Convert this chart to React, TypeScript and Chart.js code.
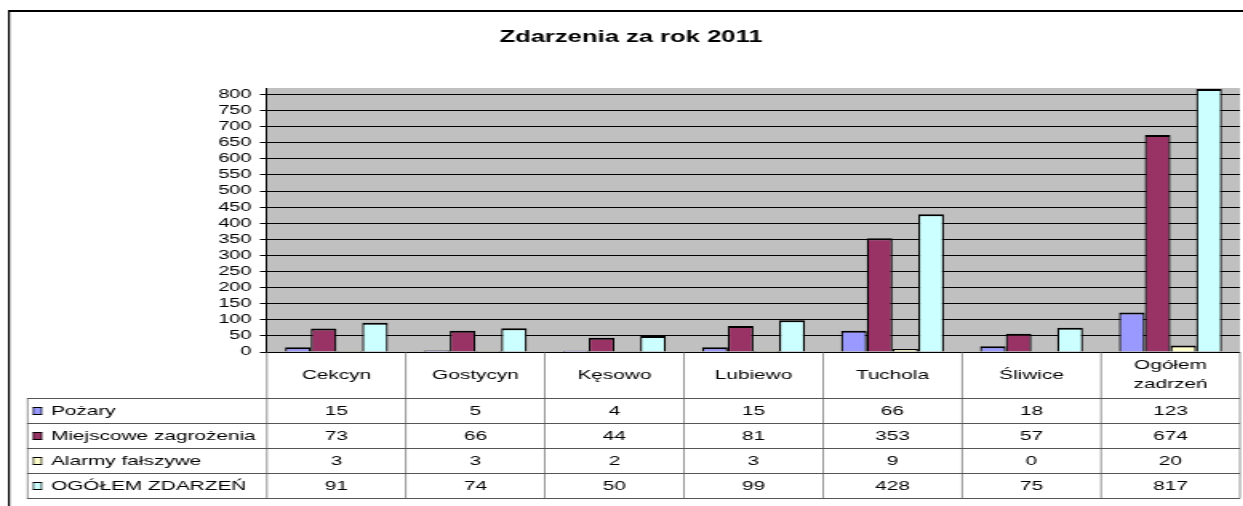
import React, { useEffect, useRef } from 'react';
import { Chart, registerables } from 'chart.js';
Chart.register(...registerables);

// horizontal stretch of the whole picture (the reference text is stretched)
const S = 1.6;
const CANVAS_W = 777;
const CANVAS_H = 506;

const title = 'Zdarzenia za rok 2011';
const categories = ['Cekcyn', 'Gostycyn', 'Kęsowo', 'Lubiewo', 'Tuchola', 'Śliwice', 'Ogółem zadrzeń'];
const seriesNames = ['Pożary', 'Miejscowe zagrożenia', 'Alarmy fałszywe', 'OGÓŁEM ZDARZEŃ'];
const pozary = [15, 5, 4, 15, 66, 18, 123];
const miejscowe = [73, 66, 44, 81, 353, 57, 674];
const alarmy = [3, 3, 2, 3, 9, 0, 20];
const ogolem = [91, 74, 50, 99, 428, 75, 817];
const seriesColors = ['#9999FF', '#993366', '#FFFFCC', '#CCFFFF'];
const yTickValues = [0, 50, 100, 150, 200, 250, 300, 350, 400, 450, 500, 550, 600, 650, 700, 750, 800];
const yMax = 820;

const FONT = '"Liberation Sans", Arial, Helvetica, sans-serif';

function wrapWords(ctx: CanvasRenderingContext2D, text: string, maxW: number): string[] {
  if (ctx.measureText(text).width <= maxW) return [text];
  const words = text.split(' ');
  const lines: string[] = [];
  let cur = '';
  for (const w of words) {
    const t = cur ? cur + ' ' + w : w;
    if (cur && ctx.measureText(t).width > maxW) {
      lines.push(cur);
      cur = w;
    } else cur = t;
  }
  if (cur) lines.push(cur);
  return lines;
}

const decoPlugin = {
  id: 'deco',
  beforeDraw(chart: any) {
    const { ctx, chartArea: a } = chart;
    ctx.save();
    ctx.fillStyle = '#000';
    ctx.fillRect(8 / S, 10, CANVAS_W, 2);
    ctx.fillRect(8 / S, 10, 2 / S, CANVAS_H);
    ctx.fillStyle = '#C0C0C0';
    ctx.fillRect(a.left, a.top, a.right - a.left, a.bottom - a.top);
    ctx.restore();
  },
  afterDraw(chart: any) {
    const { ctx, chartArea: a } = chart;
    const xs = chart.scales.x;
    const n = categories.length;
    const cw = (a.right - a.left) / n;
    const headTop = a.bottom;
    const headBot = 398.5;
    const rowH = 25;
    const tableLeft = 27 / S;
    const rows = chart.data.datasets.length;
    const bottom = headBot + rowH * rows;
    ctx.save();
    ctx.fillStyle = '#555';
    for (let i = 0; i <= n; i++) {
      const xx = a.left + i * cw;
      ctx.fillRect(xx - 0.5 / S, headTop, 1 / S, bottom - headTop);
    }
    ctx.fillRect(tableLeft, headBot, 1 / S, bottom - headBot);
    for (let r = 0; r <= rows; r++) {
      ctx.fillRect(tableLeft, headBot + r * rowH - 0.5, a.right - tableLeft, 1);
    }
    ctx.font = '13px ' + FONT;
    ctx.fillStyle = '#000';
    ctx.textBaseline = 'middle';
    ctx.textAlign = 'center';
    const headMid = (headTop + headBot) / 2;
    categories.forEach((c, i) => {
      const cx = xs.getPixelForValue(i);
      const lines = wrapWords(ctx, c, cw - 6);
      const lh = 19;
      lines.forEach((ln, k) => {
        const y = headMid - ((lines.length - 1) * lh) / 2 + k * lh;
        ctx.fillText(ln, cx, y);
      });
    });
    chart.data.datasets.forEach((ds: any, r: number) => {
      const cy = headBot + r * rowH + rowH / 2;
      ctx.fillStyle = ds.backgroundColor;
      ctx.fillRect(33 / S, cy - 4, 9 / S, 8);
      ctx.fillStyle = '#000';
      ctx.fillRect(33 / S, cy - 4, 9 / S, 1);
      ctx.fillRect(33 / S, cy + 3, 9 / S, 1);
      ctx.fillRect(33 / S, cy - 4, 1 / S, 8);
      ctx.fillRect(41 / S, cy - 4, 1 / S, 8);
      ctx.textAlign = 'left';
      ctx.fillText(ds.label, 51 / S, cy);
      ctx.textAlign = 'center';
      ds.data.forEach((v: number, i: number) => {
        ctx.fillText(String(v), xs.getPixelForValue(i), cy);
      });
    });
    ctx.restore();
  },
};

export default function App() {
  const ref = useRef<HTMLCanvasElement | null>(null);
  useEffect(() => {
    if (!ref.current) return;
    const values = [pozary, miejscowe, alarmy, ogolem];
    const chart = new Chart(ref.current, {
      type: 'bar',
      data: {
        labels: categories,
        datasets: seriesNames.map((name, i) => ({
          label: name,
          data: values[i],
          backgroundColor: seriesColors[i],
          borderColor: '#000',
          borderWidth: { top: 2, left: 1.25, right: 1.25, bottom: 0 },
          borderSkipped: 'start',
          categoryPercentage: 0.74,
          barPercentage: 1,
        })),
      },
      options: {
        responsive: false,
        animation: false,
        devicePixelRatio: 1,
        layout: { padding: { left: 13.8, right: 2, top: 0, bottom: CANVAS_H - 352 } },
        plugins: {
          legend: { display: false },
          tooltip: { enabled: false },
          title: {
            display: true,
            text: title,
            color: '#000',
            font: { family: FONT, size: 16, weight: 'bold', lineHeight: 1.2 },
            padding: { top: 28.4, bottom: 40.4 },
          },
        },
        scales: {
          x: { display: false },
          y: {
            min: 0,
            max: yMax,
            afterBuildTicks: (scale: any) => {
              scale.ticks = yTickValues.map((v) => ({ value: v }));
            },
            afterFit: (scale: any) => {
              scale.width = 267 / S - 13.8;
            },
            ticks: {
              color: '#000',
              padding: 5.2,
              autoSkip: false,
              font: { family: FONT, size: 12.5 },
            },
            grid: {
              color: '#000',
              lineWidth: 1,
              tickLength: 4.4,
              tickColor: '#000',
              drawTicks: true,
            },
            border: { display: true, color: '#000', width: 1 },
          },
        },
      },
      plugins: [decoPlugin],
    } as any);
    return () => chart.destroy();
  }, []);
  return (
    <div style={{ position: 'fixed', left: 0, top: 0, width: '100vw', height: '100vh', overflow: 'hidden', background: '#fff' }}>
      <div style={{ position: 'absolute', left: 0, top: 0, width: CANVAS_W, height: CANVAS_H, transform: `scaleX(${S})`, transformOrigin: '0 0' }}>
        <canvas ref={ref} width={CANVAS_W} height={CANVAS_H} style={{ display: 'block' }} />
      </div>
    </div>
  );
}
